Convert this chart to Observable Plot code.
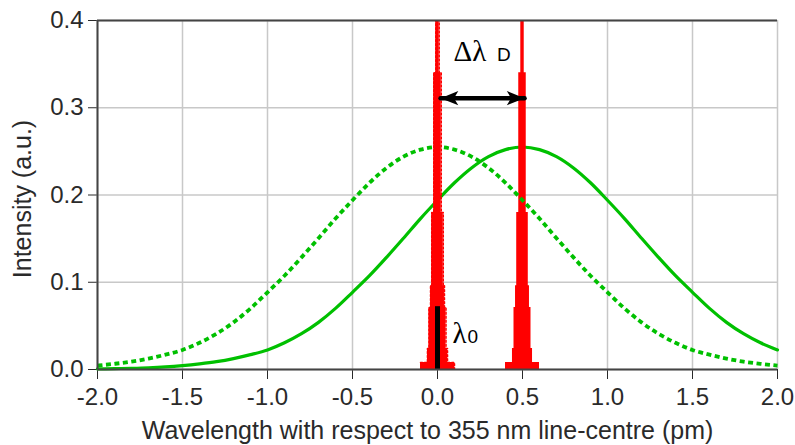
<!DOCTYPE html>
<html>
<head>
<meta charset="utf-8">
<script src="https://cdn.jsdelivr.net/npm/d3@7"></script>
<script src="https://cdn.jsdelivr.net/npm/@observablehq/plot@0.6"></script>
<style>
  html, body { margin: 0; padding: 0; background: #fff; }
</style>
</head>
<body>
<div id="chart"></div>
<script>
// Wavelength samples (pm) for the broad green profiles
const wavelength = [-2.0,-1.9,-1.8,-1.7,-1.6,-1.5,-1.4,-1.3,-1.2,-1.1,-1.0,-0.9,-0.8,-0.7,-0.6,-0.5,-0.4,-0.3,-0.2,-0.1,
  0.0,0.1,0.2,0.3,0.4,0.5,0.6,0.7,0.8,0.9,1.0,1.1,1.2,1.3,1.4,1.5,1.6,1.7,1.8,1.9,2.0];
// Broad profile centred at line centre (dashed)
const dashedIntensity = [.0045,.0065,.0090,.0125,.0170,.0224,.0306,.0410,.0540,.0700,.0885,.1075,.1285,.1505,.1730,.1940,.2140,.2310,.2440,.2520,
  .2550,.2520,.2440,.2310,.2140,.1940,.1730,.1505,.1285,.1075,.0885,.0700,.0540,.0410,.0306,.0224,.0170,.0125,.0090,.0065,.0045];
// Broad profile shifted by 0.5 pm (solid)
const solidIntensity = [.0007,.0010,.0014,.0020,.0030,.0045,.0065,.0090,.0125,.0170,.0224,.0306,.0410,.0540,.0700,.0885,.1075,.1285,.1505,.1730,
  .1940,.2140,.2310,.2440,.2520,.2550,.2520,.2440,.2310,.2140,.1940,.1730,.1505,.1285,.1075,.0885,.0700,.0540,.0410,.0306,.0224];

// Narrow laser line profile (offset from its centre, pm) — stepped
const peakOffset = [-0.100,-0.059,-0.050,-0.041,-0.034,-0.022,-0.010,0.010,0.022,0.034,0.041,0.050,0.059,0.100];
const peakIntensity = [0.008,0.024,0.071,0.096,0.180,0.340,0.460,0.340,0.180,0.096,0.071,0.024,0.008,0];
const peakCentres = [0.0, 0.5];

// Axis ticks and titles
const xTicks = [-2.0,-1.5,-1.0,-0.5,0.0,0.5,1.0,1.5,2.0];
const yTicks = [0.0,0.1,0.2,0.3,0.4];
const xTitle = ["Wavelength with respect to 355 nm line-centre (pm)"];
const yTitle = ["Intensity (a.u.)"];

// Annotations
const lambda0Bar = {x: 0.0, top: 0.072};
const arrowEnds = [0.018, 0.512];
const arrowLevel = 0.311;
const greekLabels = [{x: 0.094, y: 0.354, text: "Δλ"}, {x: 0.088, y: 0.030, text: "λ"}];
const subLabels = [{x: 0.350, y: 0.354, text: "D"}, {x: 0.176, y: 0.030, text: "0"}];

const dashed = wavelength.map((x, i) => ({x, y: dashedIntensity[i]}));
const solid = wavelength.map((x, i) => ({x, y: solidIntensity[i]}));
const peakAt = (c) => peakOffset.map((d, i) => ({x: c + d, y: peakIntensity[i]}));
const leftPeak = peakAt(peakCentres[0]);
const rightPeak = peakAt(peakCentres[1]);

const green = "#00c000";
const red = "#ff0000";

// Filled arrowhead symbol pointing right, tip at origin
const arrowHead = {
  draw(context, size) {
    const s = Math.sqrt(size);
    context.moveTo(0, 0);
    context.lineTo(-1.25 * s, -0.5 * s);
    context.lineTo(-0.95 * s, 0);
    context.lineTo(-1.25 * s, 0.5 * s);
    context.closePath();
  }
};

const chart = Plot.plot({
  width: 795,
  height: 445,
  marginLeft: 97,
  marginRight: 18,
  marginTop: 20,
  marginBottom: 76,
  style: {fontFamily: "'Liberation Sans', Arial, sans-serif", fontSize: "24px", color: "#2a2a2a", background: "#fff", overflow: "visible"},
  x: {domain: [-2, 2], ticks: xTicks, tickFormat: d => d.toFixed(1), tickSize: 10, tickPadding: 8, label: null},
  y: {domain: [0, 0.4], ticks: yTicks, tickFormat: d => d.toFixed(1), tickSize: 9, tickPadding: 5, label: null},
  marks: [
    Plot.gridX(xTicks, {stroke: "#c8c8c8", strokeOpacity: 1, strokeWidth: 1.5}),
    Plot.gridY(yTicks, {stroke: "#c8c8c8", strokeOpacity: 1, strokeWidth: 1.5}),
    Plot.line(solid, {x: "x", y: "y", stroke: green, strokeWidth: 3.2, curve: "monotone-x"}),
    Plot.areaY(rightPeak, {x: "x", y: "y", fill: red, curve: "step-after", clip: true}),
    Plot.line(dashed, {x: "x", y: "y", stroke: green, strokeWidth: 3.8, strokeDasharray: "5 3.5", strokeLinecap: "butt", curve: "monotone-x"}),
    Plot.areaY(leftPeak, {x: "x", y: "y", fill: red, curve: "step-after", clip: true}),
    Plot.line(leftPeak, {x: "x", y: "y", stroke: red, strokeWidth: 1.5, strokeDasharray: "2 2", curve: "step-after", clip: true}),
    Plot.ruleX([lambda0Bar], {x: "x", y1: 0, y2: "top", stroke: "#000", strokeWidth: 5}),
    Plot.line(arrowEnds, {x: d => d, y: () => arrowLevel, stroke: "#000", strokeWidth: 4.5}),
    Plot.dot([arrowEnds[1]], {x: d => d, y: () => arrowLevel, symbol: arrowHead, r: 8, fill: "#000", stroke: "none"}),
    Plot.dot([arrowEnds[0]], {x: d => d, y: () => arrowLevel, symbol: arrowHead, r: 8, fill: "#000", stroke: "none", rotate: 180}),
    Plot.text(greekLabels, {x: "x", y: "y", text: "text", textAnchor: "start", lineAnchor: "bottom", fontFamily: "'Liberation Serif', serif", fontSize: 29, fill: "#000"}),
    Plot.text(subLabels, {x: "x", y: "y", text: "text", textAnchor: "start", lineAnchor: "bottom", fontSize: 19, fill: "#000"}),
    Plot.text(xTitle, {text: d => d, frameAnchor: "bottom", textAnchor: "middle", lineAnchor: "bottom", dy: 69, dx: -10, fontSize: 25}),
    Plot.text(yTitle, {text: d => d, frameAnchor: "left", textAnchor: "middle", lineAnchor: "top", rotate: -90, dx: -84, dy: 4, fontSize: 25}),
    Plot.ruleY([0.4], {stroke: "#444", strokeWidth: 2}),
    Plot.ruleY([0], {stroke: "#444", strokeWidth: 2}),
    Plot.ruleX([-2], {stroke: "#444", strokeWidth: 2})
  ]
});
document.getElementById("chart").appendChild(chart);
</script>
</body>
</html>
